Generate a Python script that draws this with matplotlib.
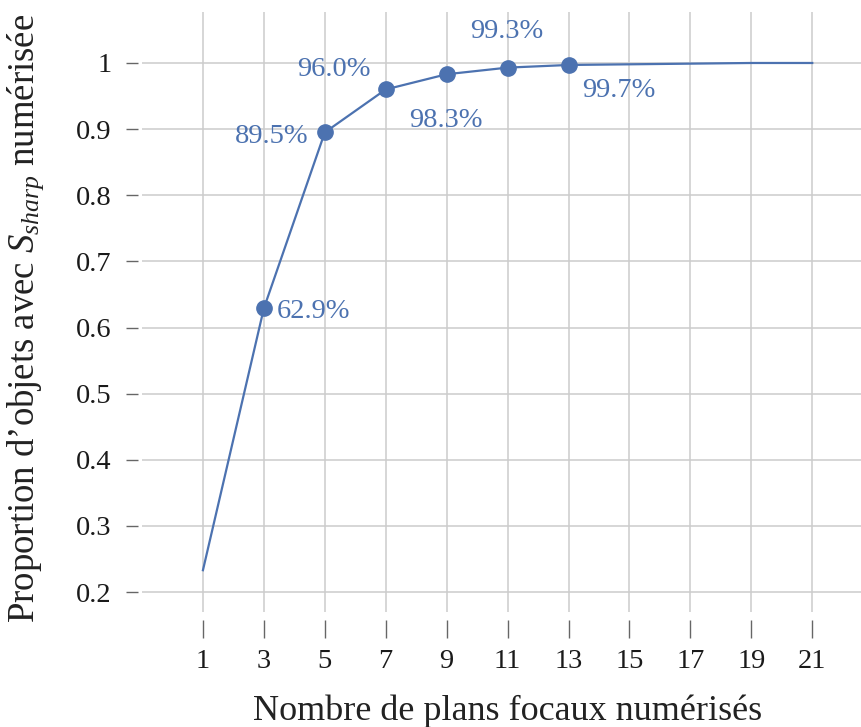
import matplotlib
matplotlib.use('Agg')
import matplotlib.pyplot as plt

plt.rcParams['font.family'] = ['Liberation Serif', 'DejaVu Serif']
plt.rcParams['mathtext.fontset'] = 'custom'
plt.rcParams['mathtext.rm'] = 'Liberation Serif'
plt.rcParams['mathtext.it'] = 'Liberation Serif:italic'

n_planes = [1, 3, 5, 7, 9, 11, 13, 15, 17, 19, 21]
proportion = [0.233, 0.629, 0.895, 0.960, 0.983, 0.993, 0.997, 0.998, 0.999, 1.0, 1.0]
marked = [3, 5, 7, 9, 11, 13]
labels = ['62.9%', '89.5%', '96.0%', '98.3%', '99.3%', '99.7%']
# offsets in pixels + alignment for each label
label_pos = [((13, 0), 'left'),
             ((-16, -1), 'right'),
             ((-52, 23), 'center'),
             ((-1, -43), 'center'),
             ((-1, 39), 'center'),
             ((14, -23), 'left')]

C = '#4c72b0'
W, H = 861, 727
fig = plt.figure(figsize=(W/100, H/100), dpi=100)
ax = fig.add_axes([142/W, 1 - 612/H, 1 - 142/W, 600/H])

ax.plot(n_planes, proportion, color=C, lw=1.6, zorder=3)
mx = [x for x in n_planes if x in marked]
my = [p for x, p in zip(n_planes, proportion) if x in marked]
ax.plot(mx, my, 'o', color=C, ms=11, zorder=4)
for x, y, s, (off, ha) in zip(mx, my, labels, label_pos):
    ax.annotate(s, (x, y), xytext=off, textcoords='offset pixels',
                ha=ha, va='center_baseline', color=C, fontsize=20.5)

ax.set_xlim(-1.0, 22.6)
ax.set_ylim(0.1698, 1.0771)
ax.set_xticks(n_planes)
ax.set_yticks([0.2, 0.3, 0.4, 0.5, 0.6, 0.7, 0.8, 0.9, 1])
ax.set_yticklabels(['0.2', '0.3', '0.4', '0.5', '0.6', '0.7', '0.8', '0.9', '1'])
ax.grid(True, color='#cccccc', lw=1.1)
ax.set_axisbelow(True)
for side in ['top', 'right']:
    ax.spines[side].set_visible(False)
ax.spines['bottom'].set_position(('outward', 6))
ax.spines['left'].set_position(('outward', 3))
ax.spines['bottom'].set_color('none')
ax.spines['left'].set_color('none')
ax.tick_params(axis='both', colors='#666666', labelcolor='#1a1a1a', labelsize=20.5, width=1)
ax.tick_params(axis='y', pad=10, length=9)
ax.tick_params(axis='x', pad=8, length=13)
ax.set_xlabel('Nombre de plans focaux numérisés', fontsize=26, color='#222222')
ax.set_ylabel("Proportion d\u2019objets avec $S_{sharp}$ numérisée", fontsize=26.5,
              color='#222222')
ax.xaxis.set_label_coords(0.508, -0.137)
ax.yaxis.set_label_coords(-0.133, 0.49)
fig.savefig('out.png', dpi=100)
